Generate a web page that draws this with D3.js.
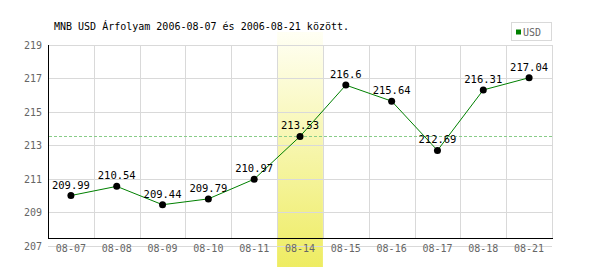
<!DOCTYPE html>
<html>
<head>
<meta charset="utf-8">
<script src="https://cdn.jsdelivr.net/npm/d3@7"></script>
<style>
  body { margin: 0; background: #fff; }
  text { font-family: "DejaVu Sans Mono", monospace; }
</style>
</head>
<body>
<div id="chart"></div>
<script>
// data
const days = ["08-07", "08-08", "08-09", "08-10", "08-11", "08-14", "08-15", "08-16", "08-17", "08-18", "08-21"];
const rates = [209.99, 210.54, 209.44, 209.79, 210.97, 213.53, 216.6, 215.64, 212.69, 216.31, 217.04];
const yTicks = [207, 209, 211, 213, 215, 217, 219];
const highlightDay = "08-14";
const refValue = 213.53;
const title = "MNB USD Árfolyam 2006-08-07 és 2006-08-21 között.";
const seriesName = "USD";

const width = 600, height = 270;
const plotLeft = 48, plotRight = 552, plotTop = 45, axisY = 238;

const svg = d3.select("#chart")
    .append("svg")
    .attr("width", width)
    .attr("height", height);

const x = d3.scaleBand().domain(days).range([plotLeft, plotRight]);
const y = d3.scaleLinear().domain([207, 219]).range([245.5, plotTop]);

// highlighted day
const grad = svg.append("defs").append("linearGradient")
    .attr("id", "hl").attr("x1", 0).attr("y1", 0).attr("x2", 0).attr("y2", 1);
grad.append("stop").attr("offset", "0%").attr("stop-color", "#fffff4");
grad.append("stop").attr("offset", "100%").attr("stop-color", "#eeec62");

svg.append("rect")
    .attr("x", x(highlightDay))
    .attr("y", 32)
    .attr("width", x.bandwidth())
    .attr("height", 267 - 32)
    .attr("fill", "url(#hl)");

// horizontal grid
svg.append("g")
    .selectAll("line")
    .data(yTicks)
    .join("line")
    .attr("x1", plotLeft).attr("x2", plotRight)
    .attr("y1", d => Math.round(y(d)) + 0.5)
    .attr("y2", d => Math.round(y(d)) + 0.5)
    .attr("stroke", "#d9d9d9");

// vertical grid
svg.append("g")
    .selectAll("line")
    .data(days.slice(1).concat(["end"]))
    .join("line")
    .attr("x1", (d, i) => Math.round(plotLeft + (i + 1) * x.bandwidth()) + 0.5)
    .attr("x2", (d, i) => Math.round(plotLeft + (i + 1) * x.bandwidth()) + 0.5)
    .attr("y1", plotTop).attr("y2", axisY)
    .attr("stroke", "#d9d9d9");

// axes lines
svg.append("line")
    .attr("x1", plotLeft + 0.5).attr("x2", plotLeft + 0.5)
    .attr("y1", plotTop).attr("y2", axisY + 0.5)
    .attr("stroke", "#000");
svg.append("line")
    .attr("x1", plotLeft).attr("x2", plotRight + 1)
    .attr("y1", axisY + 0.5).attr("y2", axisY + 0.5)
    .attr("stroke", "#000");

// y tick labels
svg.append("g")
    .selectAll("text")
    .data(yTicks)
    .join("text")
    .attr("x", 42)
    .attr("y", d => y(d) + 4)
    .attr("text-anchor", "end")
    .attr("font-size", 10)
    .attr("fill", "#666")
    .text(d => d);

// x tick labels
svg.append("g")
    .selectAll("text")
    .data(days)
    .join("text")
    .attr("x", d => x(d) + x.bandwidth() / 2)
    .attr("y", 252)
    .attr("text-anchor", "middle")
    .attr("font-size", 10)
    .attr("fill", "#666")
    .text(d => d);

// reference line
svg.append("line")
    .attr("x1", plotLeft + 1).attr("x2", plotRight)
    .attr("y1", Math.round(y(refValue)) + 0.5)
    .attr("y2", Math.round(y(refValue)) + 0.5)
    .attr("stroke", "#88cc88")
    .attr("stroke-dasharray", "3,2");

// series
const pts = days.map((d, i) => ({day: d, v: rates[i]}));
const line = d3.line()
    .x(d => x(d.day) + x.bandwidth() / 2)
    .y(d => y(d.v));

svg.append("path")
    .datum(pts)
    .attr("d", line)
    .attr("fill", "none")
    .attr("stroke", "#008000")
    .attr("stroke-width", 1);

svg.append("g")
    .selectAll("circle")
    .data(pts)
    .join("circle")
    .attr("cx", d => x(d.day) + x.bandwidth() / 2)
    .attr("cy", d => y(d.v))
    .attr("r", 3.5)
    .attr("fill", "#000");

svg.append("g")
    .selectAll("text")
    .data(pts)
    .join("text")
    .attr("x", d => x(d.day) + x.bandwidth() / 2)
    .attr("y", d => y(d.v) - 7)
    .attr("text-anchor", "middle")
    .attr("font-size", 10.5)
    .attr("fill", "#000")
    .text(d => d.v);

// title
svg.append("text")
    .attr("x", 54)
    .attr("y", 30)
    .attr("font-size", 10)
    .attr("fill", "#000")
    .text(title);

// legend
svg.append("rect")
    .attr("x", 511.5).attr("y", 22.5)
    .attr("width", 40).attr("height", 18)
    .attr("fill", "#fff")
    .attr("stroke", "#d9d9d9");
svg.append("rect")
    .attr("x", 516).attr("y", 29.5)
    .attr("width", 5).attr("height", 5)
    .attr("fill", "#008000");
svg.append("text")
    .attr("x", 523)
    .attr("y", 36)
    .attr("font-size", 10)
    .attr("fill", "#666")
    .text(seriesName);
</script>
</body>
</html>
